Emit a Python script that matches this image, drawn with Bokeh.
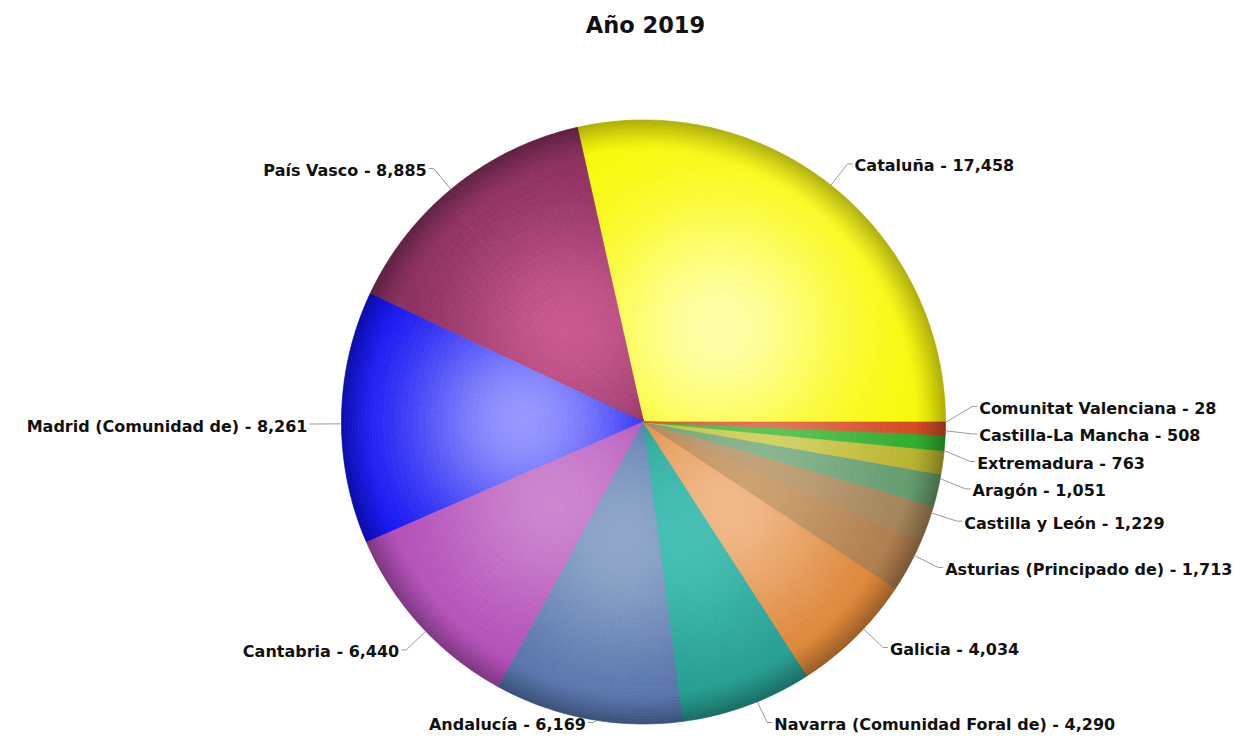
import math
import numpy as np
from bokeh.plotting import figure
from bokeh.models import Range1d, ColumnDataSource
from bokeh.core.properties import value
from bokeh.embed import file_html
from bokeh.resources import INLINE

# ---------------- data ----------------
title_text = "Año 2019"
regions = ["Cataluña", "País Vasco", "Madrid (Comunidad de)", "Cantabria", "Andalucía",
           "Navarra (Comunidad Foral de)", "Galicia", "Asturias (Principado de)",
           "Castilla y León", "Aragón", "Extremadura", "Castilla-La Mancha",
           "Comunitat Valenciana"]
values = [17458, 8885, 8261, 6440, 6169, 4290, 4034, 1713, 1229, 1051, 763, 508, 28]

# ---------------- style ----------------
base_colors = ["#f8f800", "#7e2755", "#0000f0", "#ad44b3", "#4a6aa6",
               "#1e9488", "#d97a24", "#a87444", "#9c7c50", "#5a9464",
               "#b0aa1e", "#22a622", "#cc3c18"]
light_colors = ["#ffffa8", "#c8578e", "#9696ff", "#cc84cf", "#8ea6c9",
                "#45c0b4", "#f0b888", "#cca070", "#c0a27a", "#86b48e",
                "#d4d064", "#58c458", "#e27252"]

W, H = 1234, 738
CX, CY = 643.0, -421.5          # y is -(screen y)
R = 302.0
MIN_ANGLE = math.radians(2.5)
LABEL_R = R + 27
FONT = "DejaVu Sans"
FS = 16.0
LINE_GAP = 27.5

# approximate advance widths (em) of DejaVu Sans Bold, used to keep labels on the canvas
CW = {" ": .348, "(": .457, ")": .457, ",": .380, "-": .415, "A": .774, "C": .734,
      "E": .683, "G": .821, "L": .637, "M": .995, "N": .837, "P": .733, "V": .774,
      "a": .675, "b": .716, "c": .593, "d": .716, "e": .678, "f": .435, "g": .716,
      "h": .712, "i": .343, "l": .343, "m": 1.042, "n": .712, "o": .687, "p": .716,
      "r": .493, "s": .595, "t": .478, "u": .712, "v": .652, "x": .645, "y": .652,
      "í": .343, "ó": .687, "ñ": .712}


def text_width(s):
    return FS * sum(CW.get(ch, .696) for ch in s)


p = figure(width=W, height=H, output_backend="svg", toolbar_location=None,
           x_range=Range1d(0, W), y_range=Range1d(-H, 0),
           min_border=0, outline_line_color=None, background_fill_color="white",
           border_fill_color="white")
p.axis.visible = False
p.grid.visible = False

# slice angles (counter-clockwise from 3 o'clock); tiny slices get a minimum drawn angle
total = float(sum(values))
raw = [v / total * 2 * math.pi for v in values]
small = [a < MIN_ANGLE for a in raw]
fixed = sum(MIN_ANGLE for s in small if s)
rest = sum(a for a, s in zip(raw, small) if not s)
scale = (2 * math.pi - fixed) / rest
angles = [MIN_ANGLE if s else a * scale for a, s in zip(raw, small)]
starts = np.concatenate([[0.0], np.cumsum(angles)[:-1]])
ends = starts + np.array(angles)


def hex2rgb(h):
    return np.array([int(h[i:i + 2], 16) for i in (1, 3, 5)], dtype=float)


def rgb2hex(c):
    c = np.clip(np.round(c), 0, 255).astype(int)
    return "#%02x%02x%02x" % tuple(c)


ring_edges = np.concatenate([np.linspace(0, 0.88 * R, 46), np.linspace(0.88 * R, R, 14)[1:]])

xs, ys, ir, orr, sa, ea, fc = [], [], [], [], [], [], []
for k in range(len(values)):
    b = hex2rgb(base_colors[k])
    hl = hex2rgb(light_colors[k])
    a0, a1 = starts[k], ends[k]
    n_ang = max(1, int(math.ceil(math.degrees(a1 - a0) / 2.0)))
    ang_edges = np.linspace(a0, a1, n_ang + 1)
    mid = 0.5 * (a0 + a1)
    hx, hy = 0.40 * R * math.cos(mid), 0.40 * R * math.sin(mid)
    for i in range(len(ring_edges) - 1):
        r0, r1 = ring_edges[i], ring_edges[i + 1]
        rc = 0.5 * (r0 + r1)
        t = min(1.0, max(0.0, (rc - 0.90 * R) / (0.10 * R)))
        dark = 0.30 * t ** 1.3
        for j in range(n_ang):
            th = 0.5 * (ang_edges[j] + ang_edges[j + 1])
            px, py = rc * math.cos(th), rc * math.sin(th)
            d = math.hypot(px - hx, py - hy)
            g = math.exp(-(d / (0.42 * R)) ** 2)
            c = (b + (hl - b) * g) * (1 - dark)
            xs.append(CX); ys.append(CY)
            ir.append(r0); orr.append(r1)
            sa.append(ang_edges[j]); ea.append(ang_edges[j + 1])
            fc.append(rgb2hex(c))

src = ColumnDataSource(dict(x=xs, y=ys, ir=ir, orr=orr, sa=sa, ea=ea, fc=fc))
p.annular_wedge(x="x", y="y", inner_radius="ir", outer_radius="orr",
                start_angle="sa", end_angle="ea", fill_color="fc",
                line_color="fc", line_width=0.7, source=src)

# ---------------- labels (placed at the true value angles) ----------------
labels = ["%s - %s" % (n, format(v, ",")) for n, v in zip(regions, values)]
cum = np.cumsum([0.0] + raw)
mids = 0.5 * (cum[:-1] + cum[1:])
ideal_y = [CY + LABEL_R * math.sin(m) for m in mids]
side = [1 if math.cos(m) >= 0 else -1 for m in mids]

ly = list(ideal_y)
for s in (1, -1):
    idx = [i for i in range(len(ly)) if side[i] == s]
    for _ in range(400):
        moved = False
        order = sorted(idx, key=lambda i: -ly[i])
        for a, bb in zip(order[:-1], order[1:]):
            gap = ly[a] - ly[bb]
            if gap < LINE_GAP - 0.01:
                push = (LINE_GAP - gap) / 2
                ly[a] += push
                ly[bb] -= push
                moved = True
        if not moved:
            break

lx = []
for i in range(len(ly)):
    dy = ly[i] - CY
    dx = math.sqrt(max(0.0, LABEL_R ** 2 - dy ** 2))
    lx.append(CX + side[i] * dx)

# keep texts inside the canvas
ly = [min(-12.0, max(-H + 16.0, y)) for y in ly]
for i in range(len(labels)):
    w = text_width(labels[i])
    if side[i] > 0 and lx[i] + 7 + w > W - 2:
        lx[i] = W - 2 - w - 7
    if side[i] < 0 and lx[i] - 7 - w < 2:
        lx[i] = 2 + w + 7

for i in range(len(labels)):
    rx = CX + R * math.cos(mids[i])
    ry = CY + R * math.sin(mids[i])
    ex = lx[i] + side[i] * 5
    p.line([rx, lx[i], ex], [ry, ly[i], ly[i]], line_color="#9a9a9a", line_width=1)

lab_src = ColumnDataSource(dict(
    x=[lx[i] + side[i] * 7 for i in range(len(labels))], y=[y - 2 for y in ly], text=labels,
    align=["left" if s > 0 else "right" for s in side]))
p.text(x="x", y="y", text="text", text_align="align", text_baseline="middle",
       text_font=value(FONT), text_font_style="bold", text_font_size="%gpx" % FS,
       text_color="#111111", source=lab_src)

p.text(x=[CX + 2], y=[-24], text=[title_text], text_align="center",
       text_baseline="middle", text_font=value(FONT), text_font_style="bold",
       text_font_size="22.5px", text_color="#111111")

open("out.html", "w").write(file_html(p, INLINE))
